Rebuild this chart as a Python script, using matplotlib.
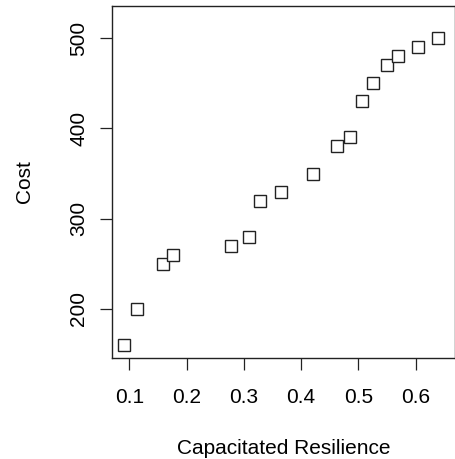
import matplotlib.pyplot as plt

plt.rcParams['font.family'] = ['Liberation Sans', 'DejaVu Sans']

# Capacitated resilience vs cost
resilience = [0.091, 0.113, 0.159, 0.176, 0.277, 0.309, 0.328, 0.365, 0.421,
              0.463, 0.485, 0.506, 0.526, 0.551, 0.570, 0.604, 0.639]
cost = [160, 200, 250, 260, 270, 280, 320, 330, 350,
        380, 390, 430, 450, 470, 480, 490, 500]

x_ticks = [0.1, 0.2, 0.3, 0.4, 0.5, 0.6]
y_ticks = [200, 300, 400, 500]

fig = plt.figure(figsize=(4.56, 4.59), dpi=100)
ax = fig.add_axes([0.2463, 0.2207, 0.7515, 0.7662])

ax.plot(resilience, cost, linestyle='none', marker='s', markersize=9,
        markerfacecolor='white', markeredgecolor='#222222', markeredgewidth=1.0)

ax.set_xlim(0.0703, 0.669)
ax.set_ylim(145.6, 535.9)
ax.set_xticks(x_ticks)
ax.set_xticklabels([f'{t:.1f}' for t in x_ticks])
ax.set_yticks(y_ticks)
ax.set_yticklabels([str(t) for t in y_ticks], rotation=90, va='center')

ax.tick_params(axis='both', length=8.5, width=0.9, labelsize=15, color='#222222')
ax.tick_params(axis='x', pad=13)
ax.tick_params(axis='y', pad=9)
for s in ax.spines.values():
    s.set_linewidth(1.0)
    s.set_color('#222222')

ax.set_xlabel('Capacitated Resilience', fontsize=15, labelpad=23)
ax.set_ylabel('Cost', fontsize=15, labelpad=25)

fig.savefig('out.png', dpi=100)
